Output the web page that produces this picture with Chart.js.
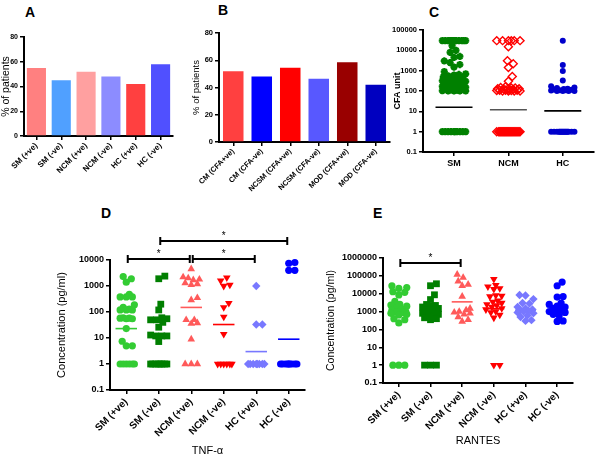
<!DOCTYPE html>
<html>
<head>
<meta charset="utf-8">
<script src="https://cdn.jsdelivr.net/npm/chart.js@4.4.1/dist/chart.umd.min.js"></script>
<style>
  body { margin: 0; background: #fff; width: 600px; height: 459px; position: relative; overflow: hidden; font-family: "Liberation Sans", Arial, sans-serif; }
  canvas { position: absolute; }
  .lbl { position: absolute; font-weight: bold; font-size: 14px; line-height: 14px; color: #000; }
</style>
</head>
<body>
<div class="lbl" style="left:25px;top:5px">A</div>
<div class="lbl" style="left:218px;top:3px">B</div>
<div class="lbl" style="left:429px;top:5px">C</div>
<div class="lbl" style="left:101px;top:206px">D</div>
<div class="lbl" style="left:373px;top:206px">E</div>

<canvas id="chartA" width="180" height="160" style="left:0;top:25px"></canvas>
<canvas id="chartB" width="210" height="190" style="left:185px;top:20px"></canvas>
<canvas id="chartC" width="210" height="165" style="left:390px;top:15px"></canvas>
<canvas id="chartD" width="260" height="239" style="left:50px;top:220px"></canvas>
<canvas id="chartE" width="260" height="229" style="left:320px;top:220px"></canvas>

<script>
// ---- data ----
const groupsA = ['SM (+ve)', 'SM (-ve)', 'NCM (+ve)', 'NCM (-ve)', 'HC (+ve)', 'HC (-ve)'];
const pctA = [55, 45, 52, 48, 42, 58];

const groupsB = ['CM (CFA+ve)', 'CM (CFA-ve)', 'NCSM (CFA+ve)', 'NCSM (CFA-ve)', 'MOD (CFA+ve)', 'MOD (CFA-ve)'];
const pctB = [52, 48, 54.5, 46.5, 58.5, 42];

const groupsC = ['SM', 'NCM', 'HC'];
const cfaSM = [30000, 30000, 30000, 30000, 30000, 30000, 30000, 30000, 30000, 30000, 30000, 30000, 30000,
  17000, 10000, 8000, 5000, 4500, 3000, 2500, 2000, 1500, 900, 700, 650, 600, 550, 500, 450, 400, 380, 350,
  320, 300, 280, 260, 240, 220, 200, 190, 180, 170, 160, 150, 140, 130, 125, 120, 115, 110, 105, 100, 100,
  100, 100, 1, 1, 1, 1, 1, 1, 1, 1, 1, 1];
const cfaNCM = [30000, 30000, 30000, 30000, 30000, 30000, 15000, 3100, 2200, 1450, 520, 300, 160, 150, 140,
  140, 130, 130, 125, 120, 120, 115, 110, 110, 110, 105, 105, 100, 100, 100, 100,
  1, 1, 1, 1, 1, 1, 1, 1, 1, 1, 1, 1, 1, 1, 1, 1, 1, 1, 1, 1, 1, 1, 1, 1];
const cfaHC = [30000, 1900, 950, 330, 170, 150, 140, 130, 125, 120, 115, 110, 110, 105, 100, 100, 100, 100,
  1, 1, 1, 1, 1, 1, 1, 1, 1, 1, 1, 1, 1, 1, 1, 1];
const cfaMedians = [16, 12, 10.5];

const groupsDE = ['SM (+ve)', 'SM (-ve)', 'NCM (+ve)', 'NCM (-ve)', 'HC (+ve)', 'HC (-ve)'];

const tnfSMpos = [2300, 1900, 1400, 480, 380, 380, 380, 190, 150, 130, 120, 120, 120, 60, 58, 58, 55, 55, 23, 7.5, 5, 5, 1, 1, 1, 1, 1, 1];
const tnfSMneg = [2400, 1900, 200, 120, 60, 55, 50, 50, 40, 26, 13, 12, 12, 12, 7.3, 1, 1, 1, 1, 1, 1, 1, 1];
const tnfNCMpos = [4500, 2200, 2000, 1800, 1700, 1300, 1200, 1100, 350, 290, 50, 50, 38, 36, 9, 1, 1, 1];
const tnfNCMneg = [2100, 1600, 1100, 1000, 220, 150, 65, 14, 1, 1, 1, 1, 1, 1];
const tnfHCpos = [1000, 33, 33, 1, 1, 1, 1, 1, 1, 1, 1];
const tnfHCneg = [8000, 7500, 4000, 4000, 1, 1, 1, 1, 1, 1, 1, 1, 1];
const tnfMedians = [23, 12, 150, 33, 3, 9];
const tnfSignif = [[0, 2, 0], [2, 4, 0], [1, 5, 1]];

const ranSMpos = [28000, 22000, 20000, 13000, 12000, 8500, 3700, 2500, 2300, 2000, 1600, 1400, 1200, 1000, 1000, 950, 900, 800, 700, 650, 400, 350, 230, 1, 1, 1];
const ranSMneg = [36000, 28000, 8700, 4700, 2500, 2200, 2000, 1800, 1500, 1300, 1200, 1100, 1000, 1000, 900, 850, 800, 700, 600, 500, 450, 400, 350, 1, 1, 1];
const ranNCMpos = [120000, 80000, 50000, 33000, 28000, 7000, 1500, 1200, 1000, 900, 800, 700, 500, 350, 280];
const ranNCMneg = [66000, 30000, 25000, 20000, 18000, 8000, 7500, 7000, 4000, 3500, 3000, 2500, 2200, 1800, 1500, 1300, 1000, 900, 650, 450, 1, 1];
const ranHCpos = [8500, 8000, 5000, 3000, 2800, 1800, 1500, 1300, 1200, 1100, 1000, 900, 800, 600, 500, 330, 300];
const ranHCneg = [45000, 28000, 7000, 6500, 3000, 2500, 2000, 1800, 1500, 1300, 1100, 1000, 900, 700, 600, 300, 280];
const ranMedians = [900, 720, 3500, 1450, 1200, 1900];
const ranSignif = [[0, 2, 0]];

const logTicksC = [0.1, 1, 10, 100, 1000, 10000, 100000];
const logTicksD = [0.1, 1, 10, 100, 1000, 10000];
const logTicksE = [0.1, 1, 10, 100, 1000, 10000, 100000, 1000000];

// ---- styles ----
const colorsA = ['#FF8080', '#50A0FF', '#FFA0A0', '#8C8CFF', '#FF4040', '#5050FF'];
const colorsB = ['#FF4040', '#0000FF', '#FF0000', '#5858FF', '#990000', '#0000C0'];
const markersDE = [
  { pointStyle: 'circle', color: '#33CC33', r: 3.6 },
  { pointStyle: 'rect', color: '#007F00', r: 4.8 },
  { pointStyle: 'triangle', color: '#FF5A5A', r: 4.4 },
  { pointStyle: 'triangle', color: '#FF0000', r: 4.4, rot: 180 },
  { pointStyle: 'rectRot', color: '#7878FF', r: 4.2 },
  { pointStyle: 'circle', color: '#0000FF', r: 3.6 }
];

Chart.defaults.font.family = '"Liberation Sans", Arial, sans-serif';
Chart.defaults.color = '#000';
Chart.defaults.animation = false;
Chart.defaults.plugins.legend.display = false;
Chart.defaults.plugins.tooltip.enabled = false;

// simple beeswarm: horizontal offsets (in x units) so markers do not pile up
function swarm(values, pxPerDecade, pxPerUnit, diam, maxHalf) {
  const placed = [];
  const out = new Array(values.length);
  const order = values.map((v, i) => i).sort((a, b) => values[a] - values[b]);
  for (const i of order) {
    const y = Math.log10(values[i]) * pxPerDecade;
    let best = 0, bestScore = -1;
    for (let k = 0; k <= 2 * maxHalf; k++) {
      const c = (k % 2 ? 1 : -1) * Math.ceil(k / 2);
      let minD = Infinity;
      for (const p of placed) {
        const d = Math.hypot(p.x - c, p.y - y);
        if (d < minD) minD = d;
      }
      if (minD >= diam) { best = c; break; }
      if (minD > bestScore) { bestScore = minD; best = c; }
    }
    placed.push({ x: best, y: y });
    out[i] = best / pxPerUnit;
  }
  return out;
}

function tickGrid() {
  return { display: true, drawOnChartArea: false, offset: false, color: '#000', lineWidth: 1.5, tickLength: 4 };
}

function yLog(ticks, width, title, titleFont, titlePad, tickSize) {
  return {
    type: 'logarithmic', min: ticks[0], max: ticks[ticks.length - 1],
    afterBuildTicks: s => { s.ticks = ticks.map(v => ({ value: v })); },
    ticks: { font: { size: tickSize, weight: 'bold' }, padding: 2, callback: v => String(v) },
    grid: tickGrid(),
    border: { color: '#000', width: 2 },
    title: { display: true, text: title, font: titleFont, padding: { top: titlePad, bottom: 0 } },
    afterFit: s => { s.width = width; }
  };
}

function xCats(cats, min, max, height, rotate, tickFont, title, titleFont) {
  return {
    type: 'linear', min: min, max: max,
    afterBuildTicks: s => { s.ticks = cats.map((c, i) => ({ value: i })); },
    ticks: { font: tickFont, autoSkip: false, minRotation: rotate, maxRotation: rotate, padding: 2,
      callback: v => cats[Math.round(v)] },
    grid: tickGrid(),
    border: { color: '#000', width: 2 },
    title: title ? { display: true, text: title, font: titleFont, padding: { top: 0, bottom: 1 } } : { display: false },
    afterFit: s => { s.height = height; }
  };
}

const bracketPlugin = {
  id: 'brackets',
  afterDraw(chart, args, o) {
    if (!o.list) return;
    const ctx = chart.ctx, xs = chart.scales.x, top = chart.chartArea.top;
    ctx.save();
    ctx.strokeStyle = '#000';
    ctx.fillStyle = '#000';
    ctx.lineWidth = 2;
    ctx.font = '10px "Liberation Sans", Arial, sans-serif';
    ctx.textAlign = 'center';
    o.list.forEach(([a, b, lvl]) => {
      const x1 = xs.getPixelForValue(a) + 1.5, x2 = xs.getPixelForValue(b) - 1.5;
      const y = top + o.levels[lvl];
      ctx.beginPath();
      ctx.moveTo(x1, y); ctx.lineTo(x2, y);
      ctx.moveTo(x1, y - 4); ctx.lineTo(x1, y + 4);
      ctx.moveTo(x2, y - 4); ctx.lineTo(x2, y + 4);
      ctx.stroke();
      ctx.fillText('*', (x1 + x2) / 2, y - 2);
    });
    ctx.restore();
  }
};

// ---- A & B: bar charts ----
function barChart(id, labels, values, colors, barPct, pad, yWidth, xHeight, tickSize, labelSize, titleSize, titlePad) {
  new Chart(document.getElementById(id), {
    type: 'bar',
    data: { labels: labels, datasets: [{ data: values, backgroundColor: colors, barPercentage: barPct, categoryPercentage: 1 }] },
    options: {
      responsive: false,
      layout: { padding: pad },
      scales: {
        x: {
          grid: tickGrid(),
          border: { color: '#000', width: 2 },
          ticks: { font: { size: labelSize, weight: 'bold' }, minRotation: 45, maxRotation: 45, autoSkip: false, padding: 1 },
          afterFit: s => { s.height = xHeight; }
        },
        y: {
          min: 0, max: 80,
          ticks: { stepSize: 20, font: { size: tickSize, weight: 'bold' }, padding: 2 },
          grid: tickGrid(),
          border: { color: '#000', width: 2 },
          title: { display: true, text: '% of patients', font: { size: titleSize }, padding: { top: titlePad, bottom: 0 } },
          afterFit: s => { s.width = yWidth; }
        }
      }
    }
  });
}

barChart('chartA', groupsA, pctA, colorsA, 0.77, { top: 12, right: 7, left: 0, bottom: 0 }, 24, 49, 7, 8, 10.5, 0);
barChart('chartB', groupsB, pctB, colorsB, 0.72, { top: 13, right: 5, left: 0, bottom: 0 }, 34, 68, 7.5, 7.5, 9.5, 6);

// ---- C: CFA units ----
(function () {
  const groups = [cfaSM, cfaNCM, cfaHC];
  const styles = [
    { pointStyle: 'star', borderColor: '#008000', backgroundColor: '#008000', borderWidth: 2.2, pointRadius: 3.6 },
    { pointStyle: 'rectRot', borderColor: '#FF0000', backgroundColor: 'rgba(0,0,0,0)', borderWidth: 1.4, pointRadius: 4 },
    { pointStyle: 'circle', borderColor: '#0000CC', backgroundColor: '#0000CC', borderWidth: 0, pointRadius: 3 }
  ];
  const medColors = ['#000', '#555', '#000'];
  const datasets = [];
  groups.forEach((vals, i) => {
    const offs = swarm(vals, 20.3, 56, 6, 12);
    datasets.push(Object.assign({ data: vals.map((v, j) => ({ x: i + offs[j], y: v })), clip: false }, styles[i]));
  });
  cfaMedians.forEach((m, i) => {
    datasets.push({ data: [{ x: i - 0.34, y: m }, { x: i + 0.34, y: m }], showLine: true, pointRadius: 0,
      borderColor: medColors[i], borderWidth: 1.6 });
  });
  new Chart(document.getElementById('chartC'), {
    type: 'scatter',
    data: { datasets: datasets },
    options: {
      responsive: false,
      layout: { padding: { top: 15, right: 1, left: 0, bottom: 0 } },
      scales: {
        x: xCats(groupsC, -0.57, 2.57, 28, 0, { size: 9, weight: 'bold' }),
        y: yLog(logTicksC, 33, 'CFA unit', { size: 9, weight: 'bold' }, 2, 7.5)
      }
    }
  });
})();

// ---- D & E: cytokine scatter ----
function cytoChart(id, groups, medians, signif, levels, logTicks, pxPerDecade, pad, yWidth, xHeight, xTitle, titleSize) {
  const datasets = [];
  groups.forEach((vals, i) => {
    const mk = markersDE[i];
    const offs = swarm(vals, pxPerDecade, 32, 6, 8);
    datasets.push({
      data: vals.map((v, j) => ({ x: i + offs[j], y: v })),
      pointStyle: mk.pointStyle, pointRadius: mk.r, rotation: mk.rot || 0,
      backgroundColor: mk.color, borderColor: mk.color, borderWidth: 0, clip: false
    });
  });
  medians.forEach((m, i) => {
    datasets.push({ data: [{ x: i - 0.33, y: m }, { x: i + 0.33, y: m }], showLine: true, pointRadius: 0,
      borderColor: markersDE[i].color, borderWidth: 1.6 });
  });
  new Chart(document.getElementById(id), {
    type: 'scatter',
    data: { datasets: datasets },
    options: {
      responsive: false,
      layout: { padding: pad },
      plugins: { brackets: { list: signif, levels: levels } },
      scales: {
        x: xCats(groupsDE, -0.5, 5.5, xHeight, 45, { size: 10, weight: 'bold' }, xTitle, { size: 11 }),
        y: yLog(logTicks, yWidth, 'Concentration (pg/ml)', { size: titleSize }, 5, 9)
      }
    },
    plugins: [bracketPlugin]
  });
}

cytoChart('chartD', [tnfSMpos, tnfSMneg, tnfNCMpos, tnfNCMneg, tnfHCpos, tnfHCneg], tnfMedians, tnfSignif,
  [-1, -19], logTicksD, 26, { top: 40, right: 5, left: 0, bottom: 0 }, 60, 69, 'TNF-\u03b1', 11);
cytoChart('chartE', [ranSMpos, ranSMneg, ranNCMpos, ranNCMneg, ranHCpos, ranHCneg], ranMedians, ranSignif,
  [5], logTicksE, 17.86, { top: 38, right: 7, left: 0, bottom: 0 }, 63, 66, 'RANTES', 10.5);
</script>
</body>
</html>
